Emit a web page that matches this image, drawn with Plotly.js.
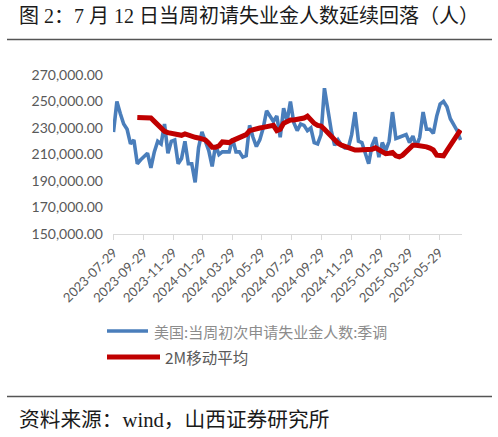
<!DOCTYPE html>
<html>
<head>
<meta charset="utf-8">
<script src="https://cdn.plot.ly/plotly-3.0.1.min.js"></script>
<style>html,body{margin:0;padding:0;background:#fff;}#chart{width:498px;height:437px;}</style>
</head>
<body>
<div id="chart"></div>
<script>
const weeks = [
"2023-07-29","2023-08-05","2023-08-12","2023-08-19","2023-08-26","2023-09-02","2023-09-09","2023-09-16","2023-09-23","2023-09-30",
"2023-10-07","2023-10-14","2023-10-21","2023-10-28","2023-11-04","2023-11-11","2023-11-18","2023-11-25","2023-12-02","2023-12-09",
"2023-12-16","2023-12-23","2023-12-30",
"2024-01-06","2024-01-13","2024-01-20","2024-01-27","2024-02-03","2024-02-10","2024-02-17","2024-02-24","2024-03-02","2024-03-09",
"2024-03-16","2024-03-23","2024-03-30","2024-04-06","2024-04-13","2024-04-20","2024-04-27","2024-05-04","2024-05-11","2024-05-18",
"2024-05-25","2024-06-01","2024-06-08","2024-06-15","2024-06-22","2024-06-29","2024-07-06","2024-07-13","2024-07-20","2024-07-27",
"2024-08-03","2024-08-10","2024-08-17","2024-08-24","2024-08-31","2024-09-07","2024-09-14","2024-09-21","2024-09-28","2024-10-05",
"2024-10-12","2024-10-19","2024-10-26","2024-11-02","2024-11-09","2024-11-16","2024-11-23","2024-11-30","2024-12-07","2024-12-14",
"2024-12-21","2024-12-28",
"2025-01-04","2025-01-11","2025-01-18","2025-01-25","2025-02-01","2025-02-08","2025-02-15","2025-02-22","2025-03-01","2025-03-08",
"2025-03-15","2025-03-22","2025-03-29","2025-04-05","2025-04-12","2025-04-19","2025-04-26","2025-05-03","2025-05-10","2025-05-17",
"2025-05-24","2025-05-31","2025-06-07","2025-06-14","2025-06-21","2025-06-28","2025-07-05","2025-07-12"
];

const initialClaims = [
227000,250000,241000,233000,229000,218000,221000,203000,206000,209000,
211000,200000,212000,220000,218000,233000,211000,220000,221000,203000,
207000,220000,203000,
203000,189000,215000,227000,220000,213000,201000,217000,210000,212000,
212000,212000,222000,212000,212000,208000,209000,232000,223000,216000,
221000,230000,243000,239000,235000,239000,223000,245000,235000,250000,
234000,228000,233000,232000,228000,230000,219000,218000,225000,260000,
242000,228000,217000,221000,217000,215000,215000,225000,242000,220000,
219000,211000,
203000,217000,223000,208000,219000,213000,220000,242000,222000,223000,
224000,225000,219000,224000,216000,223000,242000,229000,229000,226000,
239000,248000,250000,246000,237000,232000,228000,221000
];

const movingAvg2M = [
null,null,null,null,null,null,null,238000,238000,238000,
238000,237500,235000,232500,229500,227500,226500,226000,226000,225000,
224500,225500,224500,
224000,223000,222500,222000,221000,218500,215500,215500,216500,219500,
219000,219000,220500,221500,222000,223000,225000,228000,229000,229500,
230000,230500,231000,231500,232000,228000,229000,233500,235000,236000,
236000,236500,236700,237500,239000,236000,233500,232000,231500,229000,
226500,223500,220500,218500,217000,216000,214500,213500,213400,213400,
213400,213400,
213400,214000,215000,213500,212000,210700,211000,211500,209000,208300,
209500,212000,215000,217000,217000,216800,216300,215800,214800,213400,
209500,209000,209000,213000,217000,220500,224500,228500
];

const tickDates = [
"2023-07-29","2023-09-29","2023-11-29","2024-01-29","2024-03-29","2024-05-29",
"2024-07-29","2024-09-29","2024-11-29","2025-01-29","2025-03-29","2025-05-29"
];
const yTicks = [150000,170000,190000,210000,230000,250000,270000];
const yTickText = ["150,000.00","170,000.00","190,000.00","210,000.00","230,000.00","250,000.00","270,000.00"];

const seriesNames = ["美国:当周初次申请失业金人数:季调", "2M移动平均"];
const titleText = "图 2：7 月 12 日当周初请失业金人数延续回落（人）";
const sourceText = "资料来源：wind，山西证券研究所";

// pixel -> paper helpers for decoration placement
const L = 113, R = 462, T = 75, B = 234;
const px = v => (v - L) / (R - L);
const py = v => (B - v) / (B - T);

const traces = [
  {x: weeks, y: initialClaims, type: "scatter", mode: "lines", name: seriesNames[0],
   line: {color: "#4a7ebb", width: 3.6, shape: "linear"}, hoverinfo: "skip"},
  {x: weeks, y: movingAvg2M, type: "scatter", mode: "lines", name: seriesNames[1],
   line: {color: "#c00000", width: 5}, hoverinfo: "skip"}
];

const layout = {
  width: 498, height: 437, autosize: false,
  margin: {l: L, r: 498 - R, t: T, b: 437 - B, pad: 0},
  paper_bgcolor: "#ffffff", plot_bgcolor: "#ffffff",
  showlegend: false,
  xaxis: {
    type: "date", range: ["2023-07-28", "2025-07-15"],
    tickmode: "array", tickvals: tickDates, ticktext: tickDates,
    tickangle: -45, tickfont: {family: "Lato, 'Open Sans', sans-serif", size: 13, color: "#595959"},
    showgrid: false, zeroline: false,
    showline: true, linecolor: "#d9d9d9", linewidth: 1,
    ticks: "outside", ticklen: 5, tickcolor: "#d9d9d9", tickwidth: 1,
    fixedrange: true
  },
  yaxis: {
    range: [150000, 270000], tickmode: "array", tickvals: yTicks, ticktext: yTickText,
    tickfont: {family: "Lato, 'Open Sans', sans-serif", size: 14, color: "#595959"},
    showgrid: false, zeroline: false, showline: false, ticks: "",
    ticklabelstandoff: 9, fixedrange: true
  },
  shapes: [
    {type: "line", xref: "paper", yref: "paper", x0: px(7), x1: px(492), y0: py(39.5), y1: py(39.5),
     line: {color: "#555555", width: 1.5}},
    {type: "line", xref: "paper", yref: "paper", x0: px(7), x1: px(492), y0: py(396.5), y1: py(396.5),
     line: {color: "#555555", width: 1.5}},
    {type: "line", xref: "paper", yref: "paper", x0: px(107), x1: px(148), y0: py(331), y1: py(331),
     line: {color: "#4a7ebb", width: 3.6}},
    {type: "line", xref: "paper", yref: "paper", x0: px(107), x1: px(160), y0: py(357), y1: py(357),
     line: {color: "#c00000", width: 5}}
  ],
  annotations: [
    {text: titleText, xref: "paper", yref: "paper", x: px(249), y: py(16), xanchor: "center", yanchor: "middle",
     showarrow: false, font: {family: "'Liberation Serif', 'Noto Sans CJK SC', serif", size: 20, color: "#1a1a1a"}},
    {text: seriesNames[0], xref: "paper", yref: "paper", x: px(152), y: py(331), xanchor: "left", yanchor: "middle",
     showarrow: false, font: {family: "'Noto Sans CJK SC', sans-serif", size: 15, color: "#8c8c8c"}},
    {text: seriesNames[1], xref: "paper", yref: "paper", x: px(163), y: py(357), xanchor: "left", yanchor: "middle",
     showarrow: false, font: {family: "'Noto Sans CJK SC', sans-serif", size: 15.5, color: "#595959"}},
    {text: sourceText, xref: "paper", yref: "paper", x: px(17), y: py(420), xanchor: "left", yanchor: "middle",
     showarrow: false, font: {family: "'Liberation Serif', 'Noto Sans CJK SC', serif", size: 20.7, color: "#1a1a1a"}}
  ]
};

Plotly.newPlot("chart", traces, layout, {displayModeBar: false, staticPlot: true});
</script>
</body>
</html>
